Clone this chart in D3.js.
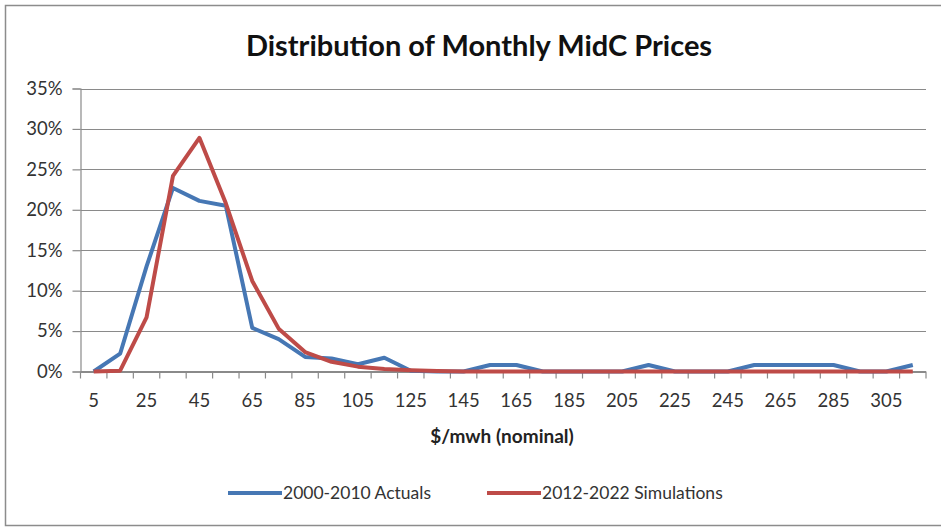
<!DOCTYPE html>
<html>
<head>
<meta charset="utf-8">
<script src="https://cdn.jsdelivr.net/npm/d3@7"></script>
<style>
  body { margin: 0; background: #fff; }
  text { font-family: Lato, "Open Sans", sans-serif; fill: #222; }
</style>
</head>
<body>
<div id="chart"></div>
<script>
// price buckets ($/mwh), every bucket 10 wide
var buckets = [5, 15, 25, 35, 45, 55, 65, 75, 85, 95, 105, 115, 125, 135, 145, 155,
               165, 175, 185, 195, 205, 215, 225, 235, 245, 255, 265, 275, 285, 295, 305, 315];
// share of months in each bucket (%)
var actuals = [0, 2.2, 13, 22.7, 21.1, 20.5, 5.4, 4.0, 1.8, 1.6, 0.9, 1.7, 0.1, 0, 0, 0.8,
               0.8, 0, 0, 0, 0, 0.8, 0, 0, 0, 0.8, 0.8, 0.8, 0.8, 0, 0, 0.8];
var simulations = [0, 0.1, 6.7, 24.2, 28.9, 20.8, 11.2, 5.3, 2.4, 1.2, 0.6, 0.3, 0.15, 0.05, 0, 0,
                   0, 0, 0, 0, 0, 0, 0, 0, 0, 0, 0, 0, 0, 0, 0, 0];
var yTicks = [0, 5, 10, 15, 20, 25, 30, 35];
var seriesNames = ["2000-2010 Actuals", "2012-2022 Simulations"];
var seriesColors = ["#4677B4", "#BE4B48"];

var width = 941, height = 527;
var plotLeft = 80.5, plotRight = 926, plotTop = 88.5, plotBottom = 371.5;

var svg = d3.select("#chart").append("svg")
    .attr("width", width)
    .attr("height", height);

// chart frame
svg.append("rect")
    .attr("x", 5.5).attr("y", 5.5)
    .attr("width", 940).attr("height", 520)
    .attr("fill", "none")
    .attr("stroke", "#8c8c8c")
    .attr("stroke-width", 1.5);

svg.append("text")
    .attr("x", 479).attr("y", 56)
    .attr("text-anchor", "middle")
    .style("font-size", "29px")
    .style("font-weight", "bold")
    .style("fill", "#111")
    .text("Distribution of Monthly MidC Prices");

var x = d3.scaleBand().domain(buckets).range([plotLeft, plotRight]);
var y = d3.scaleLinear().domain([0, 35]).range([plotBottom, plotTop]);

// horizontal gridlines
svg.append("g")
    .selectAll("line")
    .data(yTicks)
    .enter()
    .append("line")
    .attr("x1", plotLeft).attr("x2", plotRight)
    .attr("y1", function (d) { return Math.round(y(d)) + 0.5; })
    .attr("y2", function (d) { return Math.round(y(d)) + 0.5; })
    .attr("stroke", "#8a8a8a")
    .attr("stroke-width", 1.2);

var yAxis = svg.append("g")
    .attr("transform", "translate(" + plotLeft + ",0)")
    .call(d3.axisLeft(y).tickValues(yTicks).tickSize(8).tickPadding(10)
        .tickFormat(function (d) { return d + "%"; }));
yAxis.select(".domain").attr("stroke", "#8a8a8a").attr("stroke-width", 1.2);
yAxis.selectAll(".tick line").attr("stroke", "#8a8a8a").attr("stroke-width", 1.2);
yAxis.selectAll("text").style("font-size", "18.5px").style("fill", "#333")
    .style("font-family", "Lato, sans-serif");

// x axis: ticks sit between the buckets, labels on every other bucket
var xb = svg.append("g").attr("transform", "translate(0," + plotBottom + ")");
xb.append("line")
    .attr("x1", plotLeft).attr("x2", plotRight)
    .attr("stroke", "#8a8a8a").attr("stroke-width", 1.2);
xb.selectAll(".tk")
    .data(buckets.concat(["end"]))
    .enter()
    .append("line")
    .attr("x1", function (d, i) { return plotLeft + i * x.step(); })
    .attr("x2", function (d, i) { return plotLeft + i * x.step(); })
    .attr("y1", 0).attr("y2", 7)
    .attr("stroke", "#8a8a8a").attr("stroke-width", 1.2);
xb.selectAll(".lbl")
    .data(buckets.filter(function (d, i) { return i % 2 === 0; }))
    .enter()
    .append("text")
    .attr("x", function (d) { return x(d) + x.bandwidth() / 2; })
    .attr("y", 35)
    .attr("text-anchor", "middle")
    .style("font-size", "18.5px")
    .style("fill", "#333")
    .text(function (d) { return d; });

svg.append("text")
    .attr("x", 502).attr("y", 443)
    .attr("text-anchor", "middle")
    .style("font-size", "19px")
    .style("font-weight", "bold")
    .text("$/mwh (nominal)");

var line = d3.line()
    .x(function (d, i) { return x(buckets[i]) + x.bandwidth() / 2; })
    .y(function (d) { return y(d); });

[actuals, simulations].forEach(function (s, k) {
    svg.append("path")
        .datum(s)
        .attr("d", line)
        .attr("fill", "none")
        .attr("stroke", seriesColors[k])
        .attr("stroke-width", 4)
        .attr("stroke-linejoin", "round");
});

// legend
var legendPos = [228, 487];
var legend = svg.selectAll(".legend")
    .data(seriesNames)
    .enter()
    .append("g")
    .attr("transform", function (d, i) { return "translate(" + legendPos[i] + ",493)"; });
legend.append("line")
    .attr("x1", 0).attr("x2", 54)
    .attr("stroke", function (d, i) { return seriesColors[i]; })
    .attr("stroke-width", 4);
legend.append("text")
    .attr("x", 55).attr("y", 6)
    .style("font-size", "17.5px")
    .style("fill", "#333")
    .text(function (d) { return d; });
</script>
</body>
</html>
